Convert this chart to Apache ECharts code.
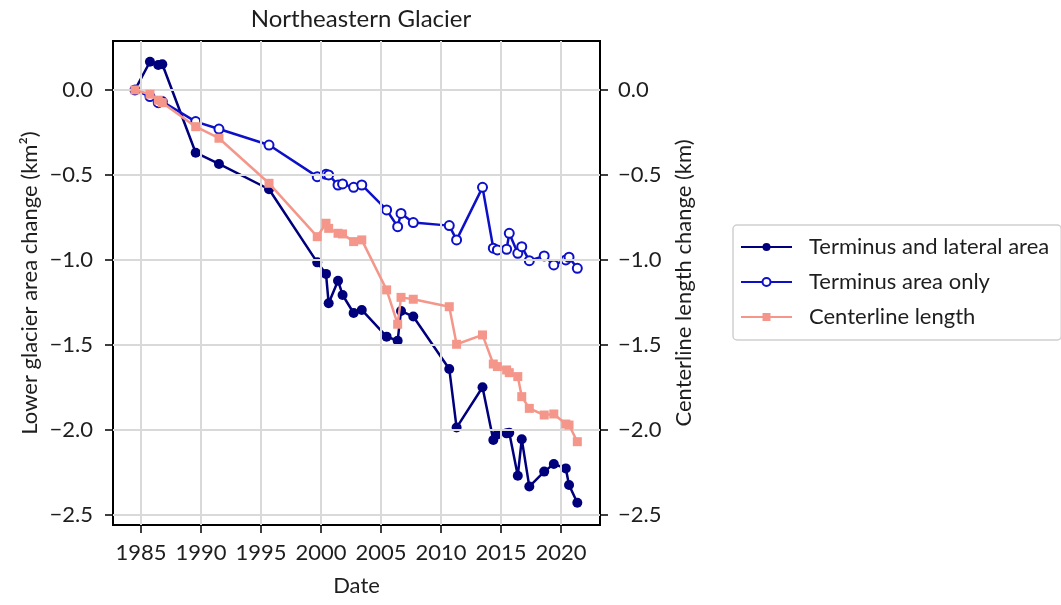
<!DOCTYPE html>
<html>
<head>
<meta charset="utf-8">
<script src="https://cdn.jsdelivr.net/npm/echarts@6/dist/echarts.min.js"></script>
<style>
  html, body { margin: 0; padding: 0; background: #fff; }
  #chart { width: 1061px; height: 605px; }
</style>
</head>
<body>
<div id="chart"></div>
<script>
// Survey dates (decimal years)
const dates = [
  1984.50, 1985.75, 1986.44, 1986.78, 1989.56, 1991.50, 1995.67, 1999.69,
  2000.42, 2000.64, 2001.42, 2001.80, 2002.72, 2003.40, 2005.47, 2006.39,
  2006.67, 2007.69, 2010.69, 2011.30, 2013.46, 2014.36, 2014.70, 2015.47,
  2015.69, 2016.40, 2016.73, 2017.36, 2018.60, 2019.40, 2020.40, 2020.67,
  2021.36
];

// Lower glacier area change, terminus + lateral margins (km²)
const terminusLateral = [
  0.000, 0.166, 0.147, 0.151, -0.369, -0.435, -0.584, -1.014,
  -1.082, -1.255, -1.122, -1.206, -1.312, -1.294, -1.451, -1.475,
  -1.300, -1.333, -1.641, -1.986, -1.749, -2.059, -2.026, -2.020,
  -2.016, -2.269, -2.055, -2.333, -2.245, -2.200, -2.226, -2.324,
  -2.428
];

// Lower glacier area change, terminus only (km²)
const terminusOnly = [
  0.000, -0.039, -0.075, -0.068, -0.186, -0.230, -0.324, -0.510,
  -0.496, -0.500, -0.559, -0.553, -0.573, -0.559, -0.706, -0.804,
  -0.726, -0.780, -0.798, -0.882, -0.573, -0.931, -0.941, -0.937,
  -0.843, -0.961, -0.922, -1.004, -0.976, -1.029, -1.000, -0.984,
  -1.049
];

// Centerline length change (km)
const centerline = [
  0.000, -0.025, -0.060, -0.075, -0.216, -0.284, -0.549, -0.863,
  -0.784, -0.814, -0.843, -0.847, -0.892, -0.882, -1.176, -1.378,
  -1.220, -1.231, -1.275, -1.496, -1.441, -1.612, -1.627, -1.647,
  -1.663, -1.686, -1.804, -1.873, -1.912, -1.906, -1.965, -1.971,
  -2.069
];

const xTicks = [1985, 1990, 1995, 2000, 2005, 2010, 2015, 2020];
const yTicks = [0, -0.5, -1.0, -1.5, -2.0, -2.5];

const FONT = 'Lato';
const TXT = '#1e1e1e';
const fmtY = v => (v < 0 ? '\u2212' : '') + Math.abs(v).toFixed(1);
const pairs = vals => dates.map((d, i) => [d, vals[i]]);

const chart = echarts.init(document.getElementById('chart'), null, { renderer: 'canvas' });

const tickStyle = { show: true, length: 8, lineStyle: { color: '#000', width: 1.5 } };

const yCommon = {
  type: 'value',
  min: -2.559,
  max: 0.288,
  nameLocation: 'middle',
  nameTextStyle: { fontFamily: FONT, fontSize: 22, color: TXT },
  axisLine: { show: true, onZero: false, lineStyle: { color: '#000', width: 2 } },
  axisTick: Object.assign({ customValues: yTicks }, tickStyle),
  axisLabel: { fontFamily: FONT, fontSize: 22, color: TXT, margin: 20, formatter: fmtY, customValues: yTicks },
  splitLine: { show: false }
};

chart.setOption({
  animation: false,
  backgroundColor: '#fff',
  title: {
    text: 'Northeastern Glacier',
    left: 356, top: 2, textAlign: 'center',
    textStyle: { fontFamily: FONT, fontSize: 24, fontWeight: 'normal', color: TXT }
  },
  grid: {
    left: 113, right: 461, top: 41, bottom: 80,
    show: true, borderColor: '#000', borderWidth: 2, backgroundColor: 'transparent'
  },
  legend: {
    orient: 'vertical',
    left: 733, top: 225,
    padding: [10, 12, 11, 7],
    itemWidth: 51, itemHeight: 10, itemGap: 11,
    borderColor: '#cfcfcf', borderWidth: 1.5, borderRadius: 4,
    backgroundColor: '#fff',
    textStyle: { fontFamily: FONT, fontSize: 22, color: TXT, lineHeight: 24, padding: [0, 0, 0, 12] },
    data: ['Terminus and lateral area', 'Terminus area only', 'Centerline length']
  },
  xAxis: {
    type: 'value',
    min: 1982.67, max: 2023.25,
    name: 'Date', nameLocation: 'middle', nameGap: 50,
    nameTextStyle: { fontFamily: FONT, fontSize: 22, color: TXT },
    axisLine: { show: true, onZero: false, lineStyle: { color: '#000', width: 2 } },
    axisTick: Object.assign({ customValues: xTicks }, tickStyle),
    axisLabel: { fontFamily: FONT, fontSize: 22, color: TXT, margin: 17, customValues: xTicks,
                 formatter: v => String(v) },
    splitLine: { show: false }
  },
  yAxis: [
    Object.assign({}, yCommon, {
      position: 'left',
      name: 'Lower glacier area change (km\u00B2)',
      nameGap: 72
    }),
    Object.assign({}, yCommon, {
      position: 'right',
      name: 'Centerline length change (km)',
      nameGap: 73,
      axisLabel: Object.assign({}, yCommon.axisLabel, { margin: 18 })
    })
  ],
  series: [
    {
      // light grid lines at the tick positions
      type: 'line', data: [], silent: true,
      markLine: {
        silent: true, symbol: 'none', animation: false,
        label: { show: false },
        lineStyle: { color: '#d9d9d9', width: 2, type: 'solid' },
        data: xTicks.map(t => ({ xAxis: t })).concat(yTicks.map(t => ({ yAxis: t })))
      },
      z: 0
    },
    {
      name: 'Terminus and lateral area',
      type: 'line', yAxisIndex: 0,
      data: pairs(terminusLateral),
      symbol: 'circle', symbolSize: 10,
      lineStyle: { color: '#00007d', width: 2.5 },
      itemStyle: { color: '#00007d' },
      z: 3
    },
    {
      name: 'Terminus area only',
      type: 'line', yAxisIndex: 0,
      data: pairs(terminusOnly),
      symbol: 'emptyCircle', symbolSize: 9,
      lineStyle: { color: '#0d10c8', width: 2.5 },
      itemStyle: { color: '#0d10c8', borderWidth: 2.5, borderColor: '#0d10c8' },
      z: 4
    },
    {
      name: 'Centerline length',
      type: 'line', yAxisIndex: 1,
      data: pairs(centerline),
      symbol: 'rect', symbolSize: 9,
      lineStyle: { color: '#f4978a', width: 2.5 },
      itemStyle: { color: '#f4978a' },
      z: 5
    }
  ]
});
</script>
</body>
</html>
